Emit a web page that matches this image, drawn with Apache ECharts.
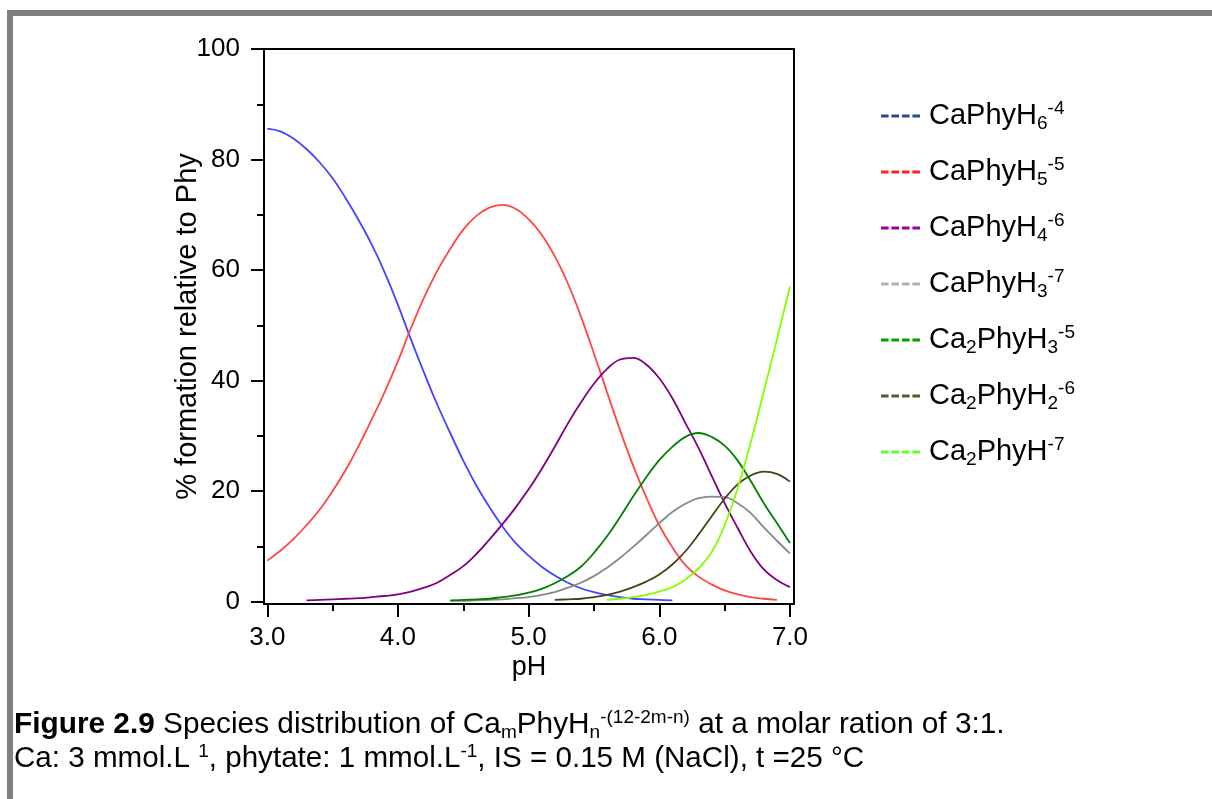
<!DOCTYPE html>
<html>
<head>
<meta charset="utf-8">
<script src="https://cdn.jsdelivr.net/npm/echarts@6/dist/echarts.min.js"></script>
<style>
  html, body { margin: 0; padding: 0; background: #fff; }
  #chart-container { width: 1212px; height: 799px; }
</style>
</head>
<body>
<div id="chart-container"></div>
<script>
// pH grid shared by all species (null = species not plotted there)
var pH = [3.0, 3.1, 3.2, 3.3, 3.4, 3.5, 3.6, 3.7, 3.8, 3.9,
  4.0, 4.1, 4.2, 4.3, 4.4, 4.5, 4.6, 4.7, 4.8, 4.9,
  5.0, 5.1, 5.2, 5.3, 5.4, 5.5, 5.6, 5.7, 5.8, 5.9,
  6.0, 6.1, 6.2, 6.3, 6.4, 6.5, 6.6, 6.7, 6.8, 6.9, 7.0];

var caPhyH6 = [85.6, 85.1, 83.8, 81.9, 79.5, 76.6, 73.0, 69.0, 64.6, 59.5,
  53.7, 47.4, 41.4, 35.7, 30.5, 25.5, 21.0, 17.1, 13.6, 10.6,
  8.3, 6.3, 4.7, 3.4, 2.4, 1.7, 1.2, 0.8, 0.5, 0.4,
  0.3, 0.2, null, null, null, null, null, null, null, null, null];

var caPhyH5 = [7.4, 9.2, 11.3, 13.8, 16.6, 20.0, 23.8, 28.2, 33.0, 38.0,
  43.5, 49.5, 55.0, 59.8, 63.8, 67.3, 69.8, 71.3, 71.8, 71.1,
  69.2, 66.4, 62.5, 57.6, 51.6, 44.9, 37.9, 31.0, 24.6, 18.9,
  13.8, 9.8, 6.6, 4.5, 3.1, 2.0, 1.3, 0.8, 0.5, 0.3, null];

var caPhyH4 = [null, null, null, 0.2, 0.3, 0.4, 0.5, 0.6, 0.8, 1.0,
  1.3, 1.8, 2.5, 3.4, 4.8, 6.4, 8.6, 11.2, 14.0, 17.0,
  20.3, 24.0, 28.0, 32.2, 36.0, 39.4, 42.1, 43.8, 44.1, 42.9,
  40.4, 36.8, 32.3, 27.8, 22.8, 17.8, 13.3, 9.0, 5.8, 3.9, 2.6];

var caPhyH3 = [null, null, null, null, null, null, null, null, null, null,
  null, null, null, null, 0.1, 0.1, 0.2, 0.3, 0.4, 0.6,
  0.8, 1.2, 1.7, 2.5, 3.4, 4.6, 6.1, 7.9, 9.9, 12.0,
  14.2, 16.2, 17.7, 18.7, 19.0, 18.9, 17.8, 16.0, 13.4, 11.0, 8.7];

var ca2PhyH3 = [null, null, null, null, null, null, null, null, null, null,
  null, null, null, null, 0.2, 0.3, 0.4, 0.5, 0.8, 1.1,
  1.6, 2.3, 3.3, 4.6, 6.3, 8.8, 11.8, 15.3, 19.0, 22.5,
  25.6, 28.0, 29.8, 30.5, 29.8, 28.2, 25.5, 21.8, 17.8, 14.2, 10.6];

var ca2PhyH2 = [null, null, null, null, null, null, null, null, null, null,
  null, null, null, null, null, null, null, null, null, null,
  null, null, 0.3, 0.4, 0.5, 0.8, 1.2, 1.8, 2.6, 3.6,
  4.9, 6.7, 9.1, 12.1, 15.4, 18.6, 21.2, 22.8, 23.5, 23.1, 21.7];

var ca2PhyH = [null, null, null, null, null, null, null, null, null, null,
  null, null, null, null, null, null, null, null, null, null,
  null, null, null, null, null, null, 0.3, 0.5, 0.8, 1.2,
  1.8, 2.6, 4.0, 6.0, 8.9, 13.8, 20.5, 28.8, 38.0, 47.4, 57.0];

var speciesNames = ['CaPhyH6-4', 'CaPhyH5-5', 'CaPhyH4-6', 'CaPhyH3-7',
  'Ca2PhyH3-5', 'Ca2PhyH2-6', 'Ca2PhyH-7'];
var speciesLabels = ['CaPhyH{sub|6}{sup|-4}', 'CaPhyH{sub|5}{sup|-5}',
  'CaPhyH{sub|4}{sup|-6}', 'CaPhyH{sub|3}{sup|-7}', 'Ca{sub|2}PhyH{sub|3}{sup|-5}',
  'Ca{sub|2}PhyH{sub|2}{sup|-6}', 'Ca{sub|2}PhyH{sup|-7}'];
var speciesValues = [caPhyH6, caPhyH5, caPhyH4, caPhyH3, ca2PhyH3, ca2PhyH2, ca2PhyH];

var xLabelTicks = [3, 4, 5, 6, 7];
var xMinorTicks = [3.5, 4.5, 5.5, 6.5];
var yLabelTicks = [0, 20, 40, 60, 80, 100];
var yMinorTicks = [10, 30, 50, 70, 90];

var lineColors = ['#4444ff', '#ff4646', '#800080', '#888888', '#008000', '#4a4210', '#80ff00'];
var legendColors = ['#2b4a8a', '#ff2020', '#a000a0', '#b0b0b0', '#00a000', '#4f5f2f', '#60ff30'];

var FONT = '"Liberation Sans", Arial, sans-serif';

var chartDom = document.getElementById('chart-container');
var myChart = echarts.init(chartDom);

function pairs(values) {
  return pH.map(function (x, i) { return [x, values[i]]; });
}

var series = speciesNames.map(function (name, i) {
  return {
    name: name,
    type: 'line',
    data: pairs(speciesValues[i]),
    smooth: 0.4,
    showSymbol: false,
    connectNulls: false,
    lineStyle: { color: lineColors[i], width: 1.8 },
    itemStyle: { color: lineColors[i] }
  };
});

var blackLine = { show: true, onZero: false, lineStyle: { color: '#000', width: 2 } };

var option = {
  animation: false,
  backgroundColor: '#fff',
  textStyle: { fontFamily: FONT },
  grid: { left: 264, top: 49, width: 530, height: 555, containLabel: false },
  xAxis: [
    {
      type: 'value', min: 2.975, max: 7.031,
      axisLine: blackLine,
      axisTick: { show: true, customValues: xLabelTicks, length: 13, lineStyle: { color: '#000', width: 2 } },
      axisLabel: {
        customValues: xLabelTicks, color: '#000', fontSize: 26, fontFamily: FONT, margin: 21,
        formatter: function (v) { return v.toFixed(1); }
      },
      splitLine: { show: false },
      name: 'pH', nameLocation: 'middle', nameGap: 50, nameMoveOverlap: false,
      nameTextStyle: { color: '#000', fontSize: 27, fontFamily: FONT }
    },
    {
      type: 'value', min: 2.975, max: 7.031, position: 'bottom',
      axisLine: { show: false, onZero: false },
      axisTick: { show: true, customValues: xMinorTicks, length: 7, lineStyle: { color: '#000', width: 2 } },
      axisLabel: { show: false },
      splitLine: { show: false }
    },
    {
      type: 'value', min: 2.975, max: 7.031, position: 'top',
      axisLine: blackLine, axisTick: { show: false }, axisLabel: { show: false },
      splitLine: { show: false }
    }
  ],
  yAxis: [
    {
      type: 'value', min: -0.45, max: 100,
      axisLine: blackLine,
      axisTick: { show: true, customValues: yLabelTicks, length: 13, lineStyle: { color: '#000', width: 2 } },
      axisLabel: { customValues: yLabelTicks, color: '#000', fontSize: 26, fontFamily: FONT, margin: 24 },
      splitLine: { show: false },
      name: '% formation relative to Phy', nameLocation: 'middle', nameGap: 62, nameRotate: 90,
      nameMoveOverlap: false,
      nameTextStyle: { color: '#000', fontSize: 29, fontFamily: FONT }
    },
    {
      type: 'value', min: -0.45, max: 100, position: 'left',
      axisLine: { show: false, onZero: false },
      axisTick: { show: true, customValues: yMinorTicks, length: 7, lineStyle: { color: '#000', width: 2 } },
      axisLabel: { show: false },
      splitLine: { show: false }
    },
    {
      type: 'value', min: -0.45, max: 100, position: 'right',
      axisLine: blackLine, axisTick: { show: false }, axisLabel: { show: false },
      splitLine: { show: false }
    }
  ],
  legend: {
    orient: 'vertical',
    left: 881,
    top: 99,
    padding: 0,
    itemGap: 22,
    itemWidth: 39,
    itemHeight: 3,
    icon: 'path://M0,0h8v3h-8z M11,0h8v3h-8z M22,0h8v3h-8z M33,0h8v3h-8z',
    selectedMode: false,
    data: speciesNames.map(function (n, i) {
      return { name: n, itemStyle: { color: legendColors[i] } };
    }),
    formatter: function (name) {
      return speciesLabels[speciesNames.indexOf(name)];
    },
    textStyle: {
      color: '#000', fontSize: 29, lineHeight: 34, fontFamily: FONT, padding: [0, 0, 0, 4],
      rich: {
        sub: { fontSize: 19, lineHeight: 25, verticalAlign: 'bottom', color: '#000', fontFamily: FONT },
        sup: { fontSize: 19, lineHeight: 20, verticalAlign: 'top', color: '#000', fontFamily: FONT }
      }
    }
  },
  graphic: [
    {
      type: 'rect', silent: true, z: 100,
      shape: { x: 10, y: 13, width: 1400, height: 1000 },
      style: { fill: null, stroke: '#808080', lineWidth: 6 }
    },
    {
      type: 'text', left: 14, top: 708,
      style: {
        text: '{b|Figure 2.9} Species distribution of Ca{sub|m}PhyH{sub|n}{sup|-(12-2m-n)} at a molar ration of 3:1.',
        fill: '#000', fontSize: 29.8, lineHeight: 34, fontFamily: FONT,
        rich: {
          b: { fontWeight: 'bold', fontSize: 29.8, lineHeight: 34, fontFamily: FONT },
          sub: { fontSize: 19, lineHeight: 25, verticalAlign: 'bottom', fontFamily: FONT },
          sup: { fontSize: 19, lineHeight: 20, verticalAlign: 'top', fontFamily: FONT }
        }
      }
    },
    {
      type: 'text', left: 14, top: 742,
      style: {
        text: 'Ca: 3 mmol.L {sup|1}, phytate: 1 mmol.L{sup|-1}, IS = 0.15 M (NaCl), t =25 °C',
        fill: '#000', fontSize: 29.6, lineHeight: 34, fontFamily: FONT,
        rich: {
          sup: { fontSize: 19, lineHeight: 20, verticalAlign: 'top', fontFamily: FONT }
        }
      }
    }
  ],
  series: series
};

option && myChart.setOption(option);

window.addEventListener('resize', function () {
  myChart.resize();
});
</script>
</body>
</html>
